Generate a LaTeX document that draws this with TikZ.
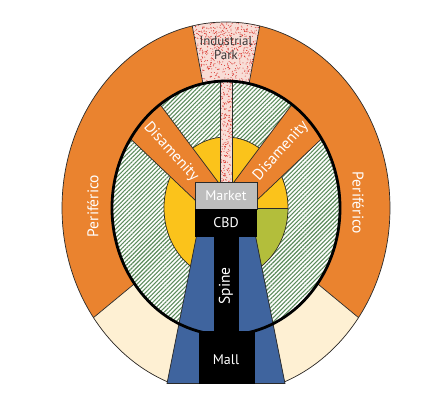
\documentclass[tikz,border=0pt]{standalone}
\usepackage{fontspec}
\setmainfont{PT Sans}
\usetikzlibrary{patterns.meta}
\definecolor{orng}{HTML}{EA832F}
\definecolor{cream}{HTML}{FEF0D3}
\definecolor{bluez}{HTML}{3F649E}
\definecolor{yel}{HTML}{FBC31B}
\definecolor{olivez}{HTML}{B3BE3B}
\definecolor{mkt}{HTML}{BDBDBD}
\definecolor{hatchg}{HTML}{5C8C5C}
\definecolor{pinkbg}{HTML}{F8DDD6}
\definecolor{dotred}{HTML}{D8322A}
\definecolor{edge}{HTML}{2A2A2A}
\definecolor{darktext}{HTML}{3A3A3A}
\begin{document}
\begin{tikzpicture}[x=1pt,y=-1pt,
  thinedge/.style={draw=edge, line width=0.7pt},
  lbl/.style={text=white, font=\fontsize{14}{16}\selectfont, inner sep=0pt},
  biglbl/.style={text=white, font=\fontsize{15.5}{17}\selectfont, inner sep=0pt},
  hatchfill/.style={pattern={Lines[angle=45,distance=3pt,line width=1.1pt]}, pattern color=hatchg},
  outerell/.style={x radius=164, y radius=186},
  innerell/.style={x radius=114, y radius=127},
  yelell/.style={x radius=62, y radius=71}]
\useasboundingbox (0,0) rectangle (429,400);
\coordinate (O) at (226,208);

% ---------- outer ring ----------
\begin{scope}
  \clip (0,0) rectangle (429,383.5);
  \fill[orng] (O) ellipse [outerell];
  \begin{scope}
    \clip (O) ellipse [outerell];
    % cream bottom sectors
    \fill[cream] (O) -- +(39.6:400) -- +(140.4:400) -- cycle;
    \draw[thinedge] (O) -- +(39.6:400);
    \draw[thinedge] (O) -- +(140.4:400);
    % industrial park sector
    \fill[pinkbg] (O) -- +(259.5:400) -- +(280.5:400) -- cycle;
    \begin{scope}
      \clip (O) -- +(259.5:400) -- +(280.5:400) -- cycle;
      \pgfmathsetseed{11}
      \foreach \i in {1,...,850}{
        \pgfmathsetmacro\px{186+rnd*82}
        \pgfmathsetmacro\py{18+rnd*66}
        \fill[dotred] (\px,\py) circle (0.5);
      }
    \end{scope}
    \draw[thinedge] (O) -- +(259.5:400);
    \draw[thinedge] (O) -- +(280.5:400);
  \end{scope}
  \draw[thinedge] (O) ellipse [outerell];
\end{scope}

% ---------- inner disc ----------
\fill[white] (O) ellipse [innerell];
\fill[hatchfill] (O) ellipse [innerell];
\begin{scope}
  \clip (O) ellipse [innerell];
  % yellow core with olive quadrant
  \fill[yel] (O) ellipse [yelell];
  \fill[olivez] (O) -- +(0:62 and 71) arc [start angle=0, end angle=90, yelell] -- cycle;
  \draw[thinedge] (O) -- +(0:62 and 71);
  \draw[thinedge] (O) ellipse [yelell];
  % industrial strip
  \fill[pinkbg] (220,60) rectangle (232,184);
  \begin{scope}
    \clip (220,60) rectangle (232,184);
    \pgfmathsetseed{5}
    \foreach \i in {1,...,300}{
      \pgfmathsetmacro\px{219+rnd*14}
      \pgfmathsetmacro\py{70+rnd*115}
      \fill[dotred] (\px,\py) circle (0.5);
    }
  \end{scope}
  \draw[thinedge] (220,60) rectangle (232,184);
  % disamenity bands
  \filldraw[fill=orng, thinedge] (133.4,68.9) -- (220,184.6) -- (196,201) -- (99.2,109.2) -- cycle;
  \filldraw[fill=orng, thinedge] (318.6,68.9) -- (232,184.6) -- (256,201) -- (352.8,109.2) -- cycle;
\end{scope}

% ---------- spine / mall ----------
\filldraw[fill=bluez, thinedge] (196.5,236) -- (255.5,236) -- (285,383.5) -- (167,383.5) -- cycle;
\fill[black] (213.5,236) rectangle (238.5,334);
\fill[black] (198.5,331) rectangle (254.5,383.5);

% thick boundary
\draw[black, line width=2.8pt] (O) ellipse [innerell];

% ---------- market / CBD ----------
\filldraw[fill=mkt, draw=edge, line width=1pt] (195,182) rectangle (257,209);
\fill[black] (195,209) rectangle (257,236.5);

% ---------- labels ----------
\node[lbl] (market) at (226,196) {Market};
\node[lbl] (cbd) at (226,222.5) {CBD};
\node[biglbl, rotate=90] (spine) at (226,286) {Spine};
\node[lbl] (mall) at (226,360) {Mall};
\node[biglbl, rotate=90] (perL) at (93,206) {Periférico};
\node[biglbl, rotate=-90] (perR) at (358,203) {Periférico};
\node[biglbl, rotate=-48] (disL) at (171,152) {Disamenity};
\node[biglbl, rotate=48] (disR) at (281,151) {Disamenity};
\node[text=darktext, font=\fontsize{13}{14}\selectfont, align=center, inner sep=0pt] (ind) at (226,48) {Industrial\\Park};
\end{tikzpicture}
\end{document}
